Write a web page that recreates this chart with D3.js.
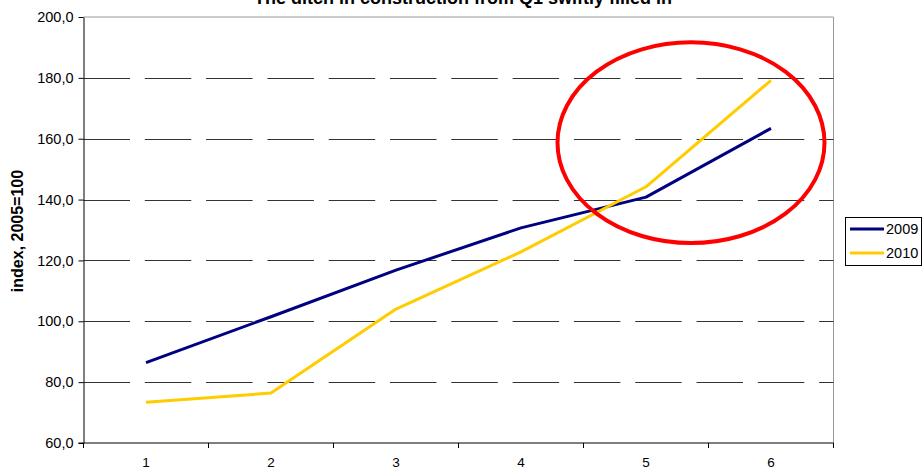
<!DOCTYPE html>
<html>
<head>
<meta charset="utf-8">
<script src="https://cdn.jsdelivr.net/npm/d3@7/dist/d3.min.js"></script>
<style>
  html, body { margin: 0; padding: 0; background: #fff; }
  svg { display: block; font-family: "Liberation Sans", Arial, sans-serif; }
</style>
</head>
<body>
<svg id="chart" width="924" height="471"></svg>
<script>
// Quarterly construction index (2005 = 100)
const categories = [1, 2, 3, 4, 5, 6];
const series2009 = [86.4, 101.5, 116.8, 130.7, 140.8, 163.4];
const series2010 = [73.4, 76.4, 104.0, 122.8, 144.2, 179.2];
const seriesNames = ["2009", "2010"];
const seriesColors = ["#000080", "#FFCC00"];
const yTicks = [60, 80, 100, 120, 140, 160, 180, 200];
const titleText = "The ditch in construction from Q1 swiftly filled in";
const yAxisTitle = "index, 2005=100";
// highlight ring around the last two quarters: centre (category, value), radii (categories, value)
const highlight = { cx: 5.36, cy: 158.7, rx: 1.068, ry: 33.0 };

const svg = d3.select("#chart");
const plot = { left: 83.5, right: 833.5, top: 17, bottom: 443 };

const x = d3.scaleBand().domain(categories).range([plot.left, plot.right]).padding(0);
const xc = d => x(d) + x.bandwidth() / 2;
const xLin = d3.scaleLinear().domain([1, 2]).range([xc(1), xc(2)]);
const y = d3.scaleLinear().domain([60, 200]).range([plot.bottom, plot.top]);

// plot frame (top and right)
svg.append("path")
  .attr("d", `M${plot.left},${plot.top}H${plot.right}V${plot.bottom}`)
  .attr("fill", "none").attr("stroke", "#999").attr("stroke-width", 1);

// dashed horizontal gridlines
svg.append("g").selectAll("line")
  .data(yTicks.filter(t => t > 60 && t < 200))
  .join("line")
  .attr("x1", plot.left).attr("x2", plot.right)
  .attr("y1", d => Math.round(y(d)) + 0.5).attr("y2", d => Math.round(y(d)) + 0.5)
  .attr("stroke", "#333").attr("stroke-width", 1)
  .attr("stroke-dasharray", "46.5,14.8");

// y axis
const yAxis = d3.axisLeft(y).tickValues(yTicks)
  .tickFormat(d => d3.format(".1f")(d).replace(".", ","))
  .tickSizeInner(5).tickSizeOuter(0).tickPadding(5);
const gy = svg.append("g").attr("transform", `translate(${plot.left},0)`).call(yAxis);
gy.selectAll("text").attr("font-size", 14.5).attr("fill", "#000")
  .attr("font-family", "Liberation Sans, Arial, sans-serif");
gy.selectAll("line, path").attr("stroke", "#000");

// x axis: ticks at category boundaries, labels at band centres
const boundaries = categories.map(c => x(c)).concat([plot.right]);
const gx = svg.append("g");
gx.append("line")
  .attr("x1", plot.left - 5).attr("x2", plot.right)
  .attr("y1", plot.bottom).attr("y2", plot.bottom)
  .attr("stroke", "#000");
gx.selectAll("line.tick").data(boundaries).join("line").attr("class", "tick")
  .attr("x1", d => d).attr("x2", d => d)
  .attr("y1", plot.bottom).attr("y2", plot.bottom + 5)
  .attr("stroke", "#000");
gx.selectAll("text").data(categories).join("text")
  .attr("x", d => xc(d)).attr("y", 467)
  .attr("text-anchor", "middle").attr("font-size", 13.5).attr("fill", "#000")
  .text(d => d);

// series lines
const line = d3.line().x((d, i) => xc(categories[i])).y(d => y(d));
[series2009, series2010].forEach((s, i) => {
  svg.append("path").datum(s)
    .attr("d", line)
    .attr("fill", "none")
    .attr("stroke", seriesColors[i])
    .attr("stroke-width", 3)
    .attr("stroke-linejoin", "round");
});

// highlight ring
svg.append("ellipse")
  .attr("cx", xLin(highlight.cx))
  .attr("cy", y(highlight.cy))
  .attr("rx", xLin(1 + highlight.rx) - xLin(1))
  .attr("ry", y(60) - y(60 + highlight.ry))
  .attr("fill", "none").attr("stroke", "#FF0000").attr("stroke-width", 4);

// title (partly clipped at the top edge)
svg.append("text")
  .attr("x", 463).attr("y", 4)
  .attr("text-anchor", "middle").attr("font-weight", "bold").attr("font-size", 18)
  .attr("fill", "#000")
  .text(titleText);

// y axis title
svg.append("text")
  .attr("transform", `translate(23,231) rotate(-90)`)
  .attr("text-anchor", "middle").attr("font-weight", "bold").attr("font-size", 16)
  .attr("fill", "#000")
  .text(yAxisTitle);

// legend
const lg = svg.append("g");
lg.append("rect").attr("x", 845.5).attr("y", 217.5).attr("width", 76).attr("height", 48)
  .attr("fill", "#fff").attr("stroke", "#000").attr("stroke-width", 1);
seriesNames.forEach((n, i) => {
  const ly = 229 + i * 24;
  lg.append("line").attr("x1", 850).attr("x2", 884).attr("y1", ly).attr("y2", ly)
    .attr("stroke", seriesColors[i]).attr("stroke-width", 3);
  lg.append("text").attr("x", 886).attr("y", ly + 5)
    .attr("font-size", 14.5).attr("fill", "#000").text(n);
});
</script>
</body>
</html>
